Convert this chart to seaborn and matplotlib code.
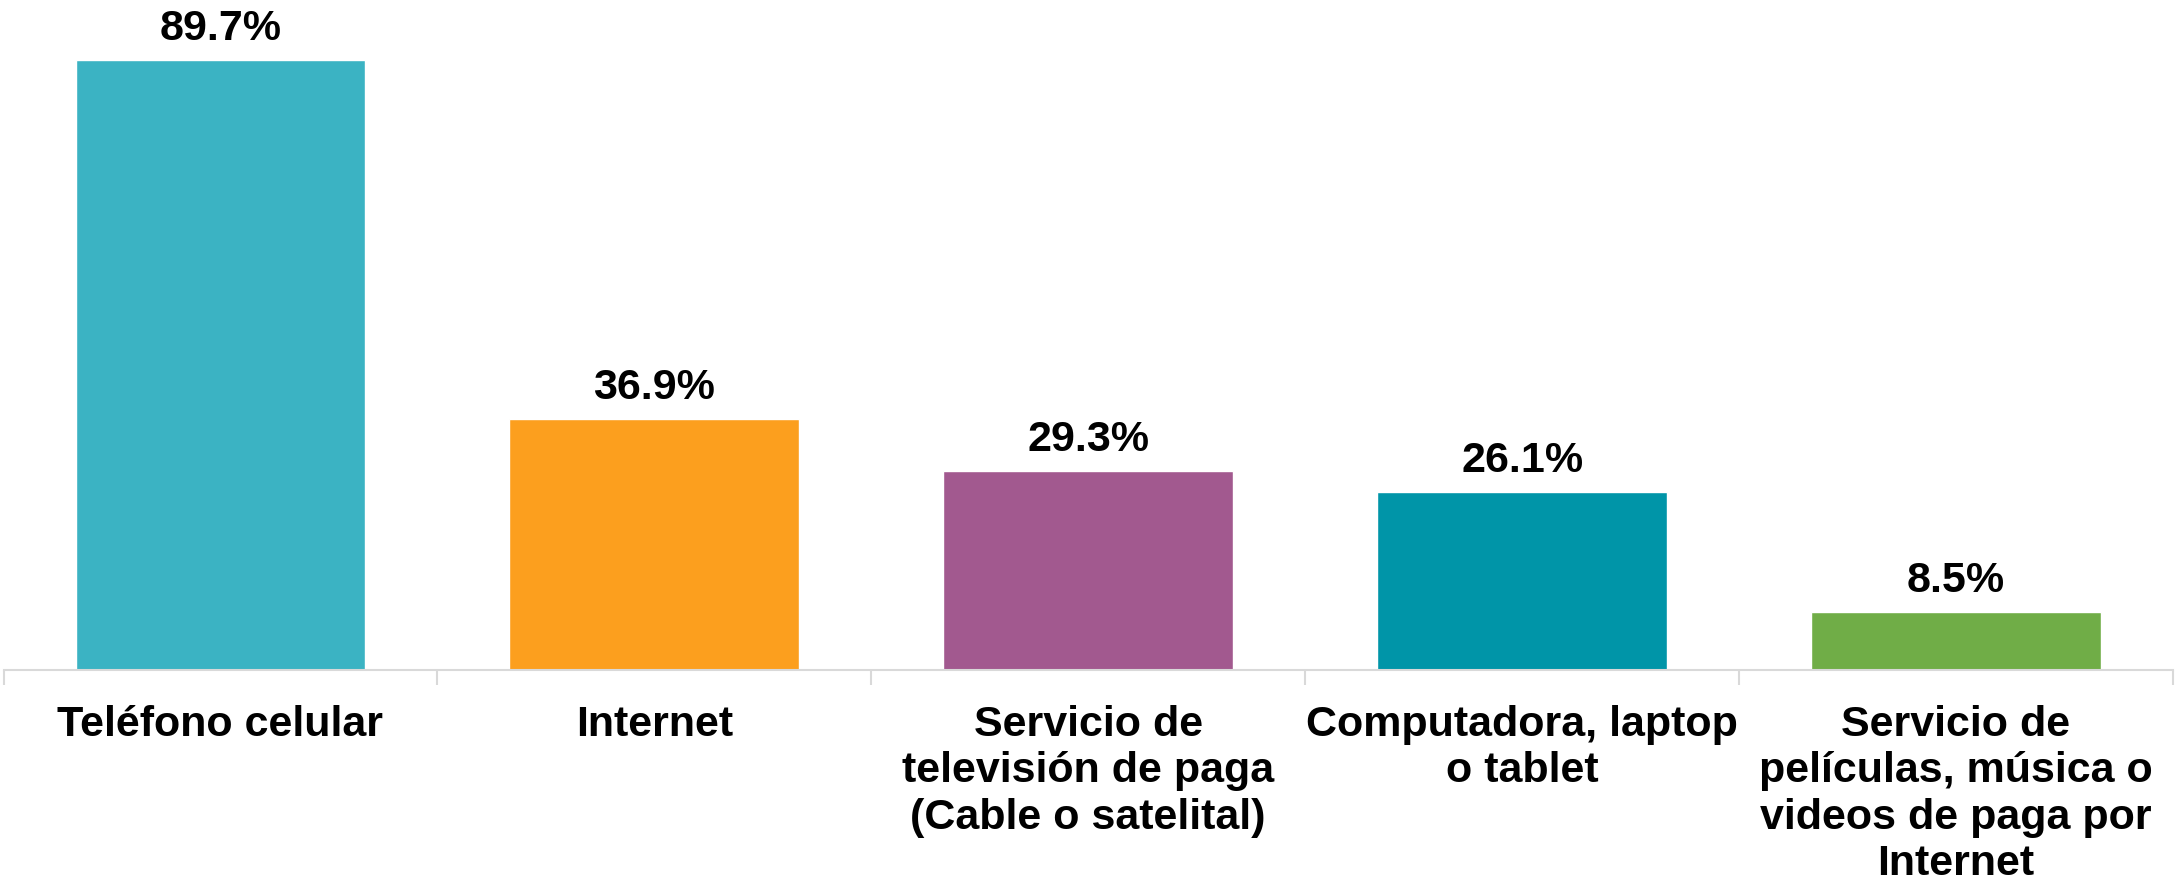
import matplotlib
matplotlib.use("Agg")
import matplotlib.pyplot as plt
import seaborn as sns
import pandas as pd
from matplotlib.ticker import FixedLocator

categories = [
    "Teléfono celular",
    "Internet",
    "Servicio de\ntelevisión de paga\n(Cable o satelital)",
    "Computadora, laptop\no tablet",
    "Servicio de\npelículas, música o\nvideos de paga por\nInternet",
]
values = [89.7, 36.9, 29.3, 26.1, 8.5]
colors = ["#3BB3C3", "#FC9F1E", "#A2598F", "#0095A8", "#70AD47"]

sns.set_theme(style="white")
plt.rcParams["font.family"] = ["Liberation Sans", "DejaVu Sans"]

df = pd.DataFrame({"cat": categories, "val": values})

fig = plt.figure(figsize=(21.77, 8.89), dpi=100)
ax = fig.add_axes([3.5 / 2177, (889 - 670) / 889, (2173 - 3.5) / 2177, 670 / 889])

sns.barplot(data=df, x="cat", y="val", hue="cat", palette=colors,
            legend=False, width=0.668, saturation=1, ax=ax)

for i, v in enumerate(values):
    ax.annotate(f"{v:.1f}%", xy=(i, v), xytext=(0, 11), textcoords="offset pixels",
                ha="center", va="bottom", fontsize=31, fontweight="bold", color="black")

ax.set_xlim(-0.5, len(categories) - 0.5)
ax.set_ylim(0, 98.5)
ax.set_xlabel("")
ax.set_ylabel("")
ax.set_yticks([])

for s in ["top", "right", "left"]:
    ax.spines[s].set_visible(False)
ax.spines["bottom"].set_color("#D9D9D9")
ax.spines["bottom"].set_linewidth(1.5)

ax.xaxis.set_minor_locator(FixedLocator([i - 0.5 for i in range(len(categories) + 1)]))
ax.tick_params(axis="x", which="minor", length=11, width=1.5, color="#D9D9D9", bottom=True)
ax.tick_params(axis="x", which="major", length=0, pad=25)
for lbl in ax.get_xticklabels():
    lbl.set_fontsize(31)
    lbl.set_fontweight("bold")
    lbl.set_color("black")
    lbl.set_linespacing(1.21)

fig.savefig("out.png", dpi=100, facecolor="white")
